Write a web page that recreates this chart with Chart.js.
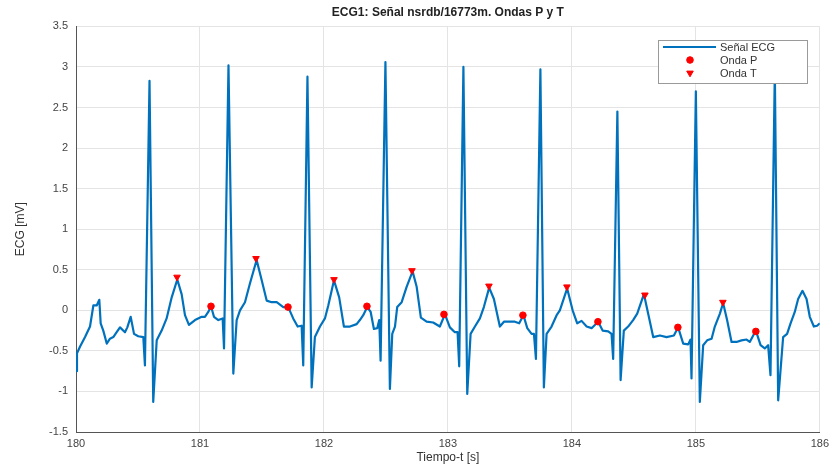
<!DOCTYPE html>
<html>
<head>
<meta charset="utf-8">
<script src="https://cdn.jsdelivr.net/npm/chart.js@4.4.1/dist/chart.umd.min.js"></script>
<style>
  html, body { margin: 0; padding: 0; background: #fff; }
  #wrap { width: 834px; height: 468px; }
</style>
</head>
<body>
<div id="wrap"><canvas id="ecgChart" width="834" height="468"></canvas></div>
<script>
// ECG signal: time [s] and amplitude [mV]
var ecgT = [180.000, 180.008, 180.032, 180.073, 180.113, 180.140, 180.167, 180.188, 180.199, 180.220,
  180.248, 180.274, 180.301, 180.328, 180.355, 180.395, 180.414, 180.441, 180.468, 180.502,
  180.543, 180.556, 180.593, 180.623, 180.651, 180.691, 180.731, 180.772, 180.817, 180.852,
  180.879, 180.911, 180.960, 181.014, 181.040, 181.067, 181.089, 181.113, 181.148, 181.183,
  181.194, 181.230, 181.269, 181.296, 181.323, 181.363, 181.403, 181.457, 181.498, 181.538,
  181.578, 181.619, 181.672, 181.712, 181.752, 181.788, 181.820, 181.833, 181.867, 181.901,
  181.927, 181.968, 182.008, 182.035, 182.081, 182.123, 182.161, 182.210, 182.264, 182.290,
  182.317, 182.349, 182.377, 182.403, 182.430, 182.446, 182.457, 182.496, 182.532, 182.551,
  182.573, 182.591, 182.627, 182.667, 182.715, 182.748, 182.782, 182.828, 182.881, 182.935,
  182.976, 183.016, 183.056, 183.078, 183.091, 183.125, 183.156, 183.183, 183.218, 183.258,
  183.290, 183.333, 183.371, 183.419, 183.452, 183.500, 183.540, 183.575, 183.609, 183.640,
  183.675, 183.694, 183.710, 183.746, 183.774, 183.796, 183.836, 183.877, 183.903, 183.962,
  184.006, 184.043, 184.078, 184.119, 184.159, 184.212, 184.248, 184.293, 184.320, 184.333,
  184.367, 184.393, 184.419, 184.454, 184.494, 184.527, 184.581, 184.615, 184.656, 184.710,
  184.764, 184.823, 184.857, 184.898, 184.938, 184.957, 184.965, 185.000, 185.032, 185.059,
  185.091, 185.127, 185.153, 185.194, 185.220, 185.252, 185.288, 185.328, 185.368, 185.409,
  185.435, 185.484, 185.522, 185.556, 185.583, 185.602, 185.637, 185.664, 185.704, 185.736,
  185.764, 185.798, 185.825, 185.860, 185.893, 185.919, 185.952, 185.978, 186.000];
var ecgV = [-0.75, -0.53, -0.45, -0.33, -0.20, 0.06, 0.06, 0.13, -0.16, -0.25,
  -0.41, -0.35, -0.33, -0.27, -0.21, -0.27, -0.21, -0.08, -0.29, -0.32,
  -0.33, -0.68, 2.83, -1.13, -0.37, -0.25, -0.10, 0.16, 0.38, 0.20,
  -0.06, -0.18, -0.12, -0.08, -0.08, -0.02, 0.05, -0.08, -0.12, -0.10,
  -0.47, 3.02, -0.78, -0.12, 0.00, 0.10, 0.33, 0.62, 0.37, 0.12,
  0.10, 0.10, 0.04, 0.04, -0.10, -0.20, -0.19, -0.68, 2.88, -0.95,
  -0.33, -0.20, -0.10, 0.06, 0.37, 0.16, -0.20, -0.20, -0.17, -0.12,
  -0.06, 0.04, -0.02, -0.23, -0.22, -0.12, -0.62, 3.06, -0.97, -0.29,
  -0.20, 0.04, 0.10, 0.29, 0.48, 0.29, -0.09, -0.14, -0.15, -0.20,
  -0.05, -0.21, -0.27, -0.27, -0.69, 3.00, -1.03, -0.29, -0.20, -0.10,
  0.04, 0.28, 0.14, -0.20, -0.14, -0.14, -0.14, -0.16, -0.06, -0.22,
  -0.29, -0.29, -0.60, 2.97, -0.95, -0.29, -0.20, -0.06, 0.00, 0.27,
  0.00, -0.16, -0.13, -0.20, -0.22, -0.14, -0.25, -0.26, -0.29, -0.60,
  2.45, -0.86, -0.25, -0.20, -0.12, -0.04, 0.20, -0.04, -0.33, -0.31,
  -0.33, -0.31, -0.21, -0.41, -0.42, -0.36, -0.84, 2.70, -1.13, -0.43,
  -0.37, -0.35, -0.20, -0.04, 0.09, -0.12, -0.39, -0.39, -0.37, -0.36,
  -0.39, -0.25, -0.43, -0.47, -0.43, -0.80, 2.95, -1.11, -0.33, -0.29,
  -0.16, -0.02, 0.14, 0.24, 0.14, -0.08, -0.20, -0.19, -0.16];

// detected P waves
var pT = [181.089, 181.710, 182.347, 182.968, 183.605, 184.210, 184.855, 185.484];
var pV = [0.05, 0.04, 0.05, -0.05, -0.06, -0.14, -0.21, -0.26];

// detected T waves
var tT = [180.815, 181.452, 182.081, 182.710, 183.331, 183.960, 184.589, 185.218];
var tV = [0.41, 0.64, 0.38, 0.49, 0.30, 0.29, 0.19, 0.10];

var xTicks = [180, 181, 182, 183, 184, 185, 186];
var yTicks = [-1.5, -1, -0.5, 0, 0.5, 1, 1.5, 2, 2.5, 3, 3.5];

function toXY(xs, ys) {
  var out = [];
  for (var i = 0; i < xs.length; i++) out.push({ x: xs[i], y: ys[i] });
  return out;
}

var FONT = "'Liberation Sans', Arial, Helvetica, sans-serif";
var lineBlue = '#0072BD';
var markRed = '#ff0000';

// legend drawn inside the axes, on top of the curve (as in MATLAB)
var boxLegend = {
  id: 'boxLegend',
  afterDatasetsDraw: function(chart) {
    var ctx = chart.ctx;
    var x0 = 658, y0 = 40, w = 149, h = 43;
    ctx.save();
    ctx.fillStyle = '#fff';
    ctx.fillRect(x0, y0, w, h);
    ctx.strokeStyle = '#9a9a9a';
    ctx.lineWidth = 1;
    ctx.strokeRect(x0 + 0.5, y0 + 0.5, w, h);
    ctx.font = '11px ' + FONT;
    ctx.textBaseline = 'middle';
    var rows = [47, 60, 73];
    chart.data.datasets.forEach(function(ds, i) {
      var y = rows[i];
      if (i === 0) {
        ctx.strokeStyle = lineBlue;
        ctx.lineWidth = 2;
        ctx.beginPath();
        ctx.moveTo(663, y);
        ctx.lineTo(716, y);
        ctx.stroke();
      } else {
        ctx.fillStyle = markRed;
        ctx.strokeStyle = markRed;
        ctx.lineWidth = 1;
        Chart.helpers.drawPoint(ctx, {
          pointStyle: ds.pointStyle,
          radius: ds.pointRadius,
          rotation: ds.rotation || 0,
          borderWidth: 1
        }, 690, y);
      }
      ctx.fillStyle = '#333';
      ctx.fillText(ds.label, 720, y + 0.5);
    });
    ctx.restore();
  }
};

var ctx = document.getElementById('ecgChart').getContext('2d');
var ecgChart = new Chart(ctx, {
  type: 'line',
  data: {
    datasets: [{
      label: 'Señal ECG',
      data: toXY(ecgT, ecgV),
      borderColor: lineBlue,
      borderWidth: 2.2,
      borderJoinStyle: 'round',
      pointRadius: 0,
      tension: 0,
      order: 3
    }, {
      label: 'Onda P',
      type: 'scatter',
      data: toXY(pT, pV),
      pointStyle: 'circle',
      pointRadius: 3.3,
      backgroundColor: markRed,
      borderColor: markRed,
      borderWidth: 1,
      order: 1
    }, {
      label: 'Onda T',
      type: 'scatter',
      data: toXY(tT, tV),
      pointStyle: 'triangle',
      rotation: 180,
      pointRadius: 3.8,
      backgroundColor: markRed,
      borderColor: markRed,
      borderWidth: 1,
      order: 2
    }]
  },
  options: {
    responsive: false,
    animation: false,
    layout: { padding: { left: 0, right: 14, top: 0, bottom: 0 } },
    plugins: {
      legend: { display: false },
      tooltip: { enabled: false },
      title: {
        display: true,
        fullSize: false,
        text: 'ECG1: Señal nsrdb/16773m. Ondas P y T',
        color: '#222',
        font: { family: FONT, size: 12, weight: 'bold' },
        padding: { top: 5, bottom: 7 }
      }
    },
    scales: {
      x: {
        type: 'linear',
        min: 180,
        max: 186,
        afterBuildTicks: function(s) { s.ticks = xTicks.map(function(v) { return { value: v }; }); },
        afterFit: function(s) { s.height = 36; },
        grid: { color: '#e4e4e4', drawTicks: false },
        border: { color: '#555', width: 1 },
        ticks: {
          color: '#444',
          font: { family: FONT, size: 11 },
          padding: 5,
          callback: function(v) { return String(v); }
        },
        title: {
          display: true,
          text: 'Tiempo-t [s]',
          color: '#333',
          font: { family: FONT, size: 12 },
          padding: { top: 0, bottom: 3 }
        }
      },
      y: {
        min: -1.5,
        max: 3.5,
        afterBuildTicks: function(s) { s.ticks = yTicks.map(function(v) { return { value: v }; }); },
        afterFit: function(s) { s.width = 76; },
        grid: { color: '#e4e4e4', drawTicks: false },
        border: { color: '#555', width: 1 },
        ticks: {
          color: '#444',
          font: { family: FONT, size: 11 },
          padding: 8,
          callback: function(v) { return String(v); }
        },
        title: {
          display: true,
          text: 'ECG [mV]',
          color: '#333',
          font: { family: FONT, size: 12 },
          padding: { top: 13, bottom: 0 }
        }
      }
    }
  },
  plugins: [boxLegend]
});
</script>
</body>
</html>
